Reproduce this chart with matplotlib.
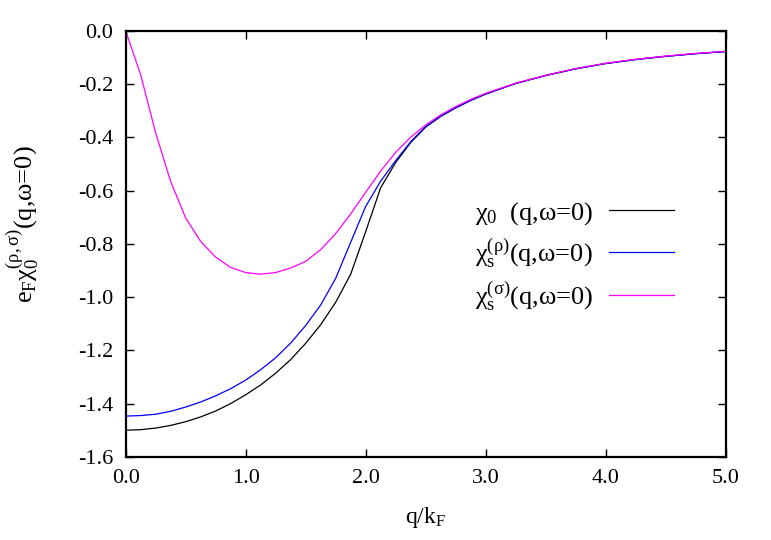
import numpy as np
import matplotlib
matplotlib.use("Agg")
import matplotlib.pyplot as plt

# q/kF grid: 0.125 steps up to 3, then 0.25 steps
q = [0.0, 0.125, 0.25, 0.375, 0.5, 0.625, 0.75, 0.875, 1.0, 1.125, 1.25,
     1.375, 1.5, 1.625, 1.75, 1.875, 2.0, 2.125, 2.25, 2.375, 2.5, 2.625,
     2.75, 2.875, 3.0, 3.25, 3.5, 3.75, 4.0, 4.25, 4.5, 4.75, 5.0]

# chi_0
chi0 = [-1.500, -1.498, -1.492, -1.482, -1.468, -1.450, -1.428, -1.400,
        -1.367, -1.330, -1.286, -1.235, -1.174, -1.104, -1.020, -0.915,
        -0.755, -0.590, -0.495, -0.420, -0.362, -0.322, -0.290, -0.262,
        -0.238, -0.198, -0.168, -0.143, -0.123, -0.108, -0.096, -0.086, -0.078]

# chi_s^(rho)
chi_rho = [-1.447, -1.445, -1.440, -1.429, -1.413, -1.394, -1.371, -1.344,
           -1.312, -1.273, -1.228, -1.173, -1.107, -1.030, -0.930, -0.795,
           -0.660, -0.565, -0.488, -0.417, -0.360, -0.320, -0.289, -0.261,
           -0.237, -0.198, -0.168, -0.143, -0.123, -0.108, -0.096, -0.086, -0.078]

# chi_s^(sigma)
chi_sig = [0.000, -0.165, -0.384, -0.566, -0.703, -0.791, -0.850, -0.889,
           -0.908, -0.914, -0.908, -0.891, -0.866, -0.822, -0.762, -0.688,
           -0.607, -0.527, -0.457, -0.400, -0.354, -0.316, -0.285, -0.258,
           -0.235, -0.197, -0.167, -0.142, -0.122, -0.107, -0.095, -0.085, -0.077]

xticks = [0.0, 1.0, 2.0, 3.0, 4.0, 5.0]
yticks = [0.0, -0.2, -0.4, -0.6, -0.8, -1.0, -1.2, -1.4, -1.6]

labels = [r"$\mathrm{χ_0}$  (q,ω=0)",
          r"$\mathrm{χ_s^{(ρ)}}$(q,ω=0)",
          r"$\mathrm{χ_s^{(σ)}}$(q,ω=0)"]
colors = ["black", "blue", "magenta"]

plt.rcParams["font.family"] = ["Liberation Serif", "DejaVu Serif"]
plt.rcParams["mathtext.fontset"] = "custom"
plt.rcParams["mathtext.rm"] = "Liberation Serif"
plt.rcParams["mathtext.it"] = "Liberation Serif:italic"
plt.rcParams["mathtext.default"] = "rm"
plt.rcParams["axes.unicode_minus"] = False

fig = plt.figure(figsize=(7.71, 5.40), dpi=100)
ax = fig.add_axes([0.163, 0.154, 0.778, 0.789])

for y, c, lab in zip([chi0, chi_rho, chi_sig], colors, labels):
    ax.plot(q, y, color=c, lw=0.9, label=lab)

ax.set_xlim(0, 5)
ax.set_ylim(-1.6, 0)
ax.set_xticks(xticks)
ax.set_xticklabels(["%.1f" % v for v in xticks])
ax.set_yticks(yticks)
ax.set_yticklabels(["%.1f" % v for v in yticks])
ax.tick_params(direction="in", top=True, right=True, length=6, width=1,
               labelsize=16, pad=9)
for s in ax.spines.values():
    s.set_linewidth(1.6)

ax.set_xlabel(r"q/k$_\mathrm{F}$", fontsize=17, labelpad=12)
ax.set_ylabel(r"e$_\mathrm{F}$$\mathrm{χ_0^{(ρ,σ)}}$(q,ω=0)", fontsize=19)
ax.yaxis.set_label_coords(-0.14, 0.545)

ax.legend(loc="center right", bbox_to_anchor=(0.953, 0.47), frameon=False,
          markerfirst=False, fontsize=19, handlelength=2.45, handletextpad=0.6,
          labelspacing=0.36)

fig.savefig("out.png", dpi=100)
